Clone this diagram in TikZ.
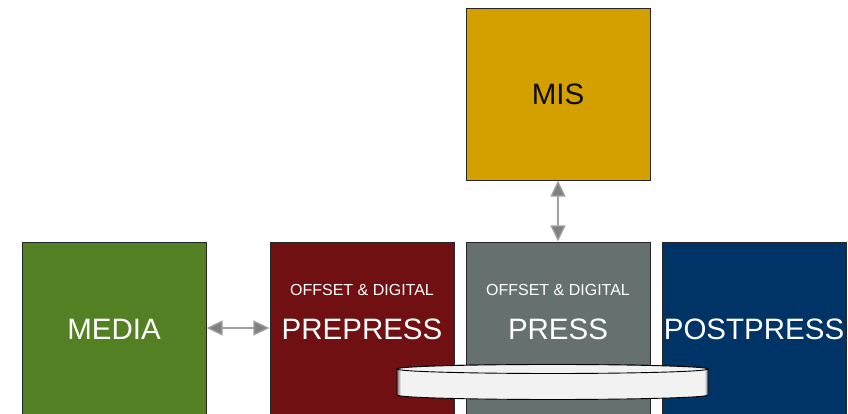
\documentclass[tikz,border=0pt]{standalone}
\usepackage{fontspec}
\setmainfont{Liberation Sans}
\usetikzlibrary{arrows.meta}
\definecolor{cmis}{HTML}{D4A000}
\definecolor{cmedia}{HTML}{548024}
\definecolor{cpre}{HTML}{701012}
\definecolor{cpress}{HTML}{66716F}
\definecolor{cpost}{HTML}{003366}
\definecolor{cdisk}{HTML}{F2F2F2}
\definecolor{carrow}{HTML}{808080}
\pgfdeclarehorizontalshading{diskshade}{100bp}{color(0bp)=(black!55);color(25bp)=(black!55);color(25.6bp)=(cdisk);color(74.4bp)=(cdisk);color(75bp)=(black!55);color(100bp)=(black!55)}
\tikzset{
  box/.style={draw=black!85, line width=0.8pt, minimum width=184pt, minimum height=#1, inner sep=0pt, outer sep=0pt},
  big/.style={font=\fontsize{29.5}{31}\selectfont, text=white, inner sep=0pt},
  small/.style={font=\fontsize{16}{18}\selectfont, text=white, inner sep=0pt},
  link/.style={draw=carrow!75, line width=1.3pt, {Triangle[length=16pt,width=15pt,fill=carrow]}-{Triangle[length=16pt,width=15pt,fill=carrow]}, shorten <=0.6pt, shorten >=0.6pt},
}
\begin{document}
\begin{tikzpicture}[x=1pt,y=1pt]
\useasboundingbox (0,0) rectangle (848,414);
% boxes
\node[box=172pt, fill=cmis, anchor=north west] (mis) at (466,406) {};
\node[box=190pt, fill=cmedia, anchor=north west] (media) at (22,172) {};
\node[box=190pt, fill=cpre, anchor=north west] (prepress) at (270,172) {};
\node[box=190pt, fill=cpress, anchor=north west] (press) at (466,172) {};
\node[box=190pt, fill=cpost, anchor=north west] (postpress) at (662,172) {};
% texts
\node[big, text=black!95] (mistext) at (mis.center) {MIS};
\node[big] (mediatext) at (114,85) {MEDIA};
\node[small] (presub) at (362,124) {OFFSET \& DIGITAL};
\node[big] (pretext) at (362,85) {PREPRESS};
\node[small] (presssub) at (558,124) {OFFSET \& DIGITAL};
\node[big] (presstext) at (558,85) {PRESS};
\node[big] (posttext) at (754,85) {POSTPRESS};
% connectors
\draw[link] (media.east |- 0,86) -- (prepress.west |- 0,86);
\draw[link] (mis.south) -- (press.north);
% disk
\coordinate (disktop) at (552.5,45);
\path[shading=diskshade, draw=black, line width=0.9pt]
  (397,45) -- (397,19) arc[start angle=180,end angle=360,x radius=155.5pt,y radius=4.5pt]
  -- (708,45) arc[start angle=0,end angle=180,x radius=155.5pt,y radius=4.5pt] -- cycle;
\draw[black, line width=0.9pt, fill=cdisk] (disktop) ellipse[x radius=155.5pt, y radius=4.5pt];
\end{tikzpicture}
\end{document}
